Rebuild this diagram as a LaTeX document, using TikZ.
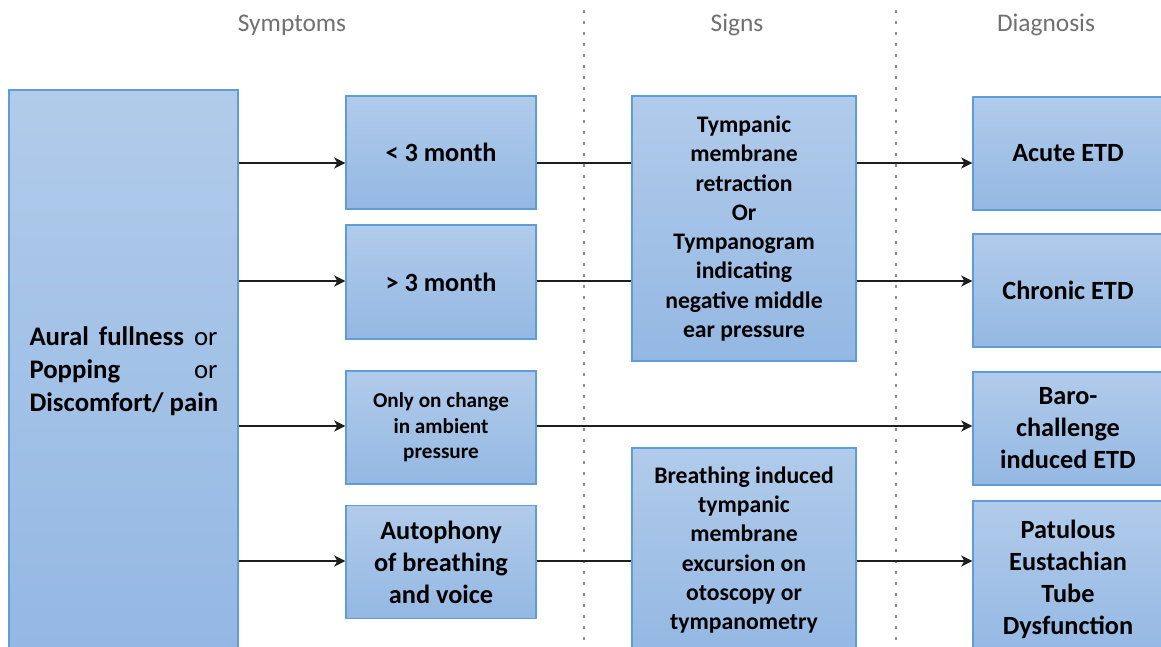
\documentclass[tikz,border=0pt]{standalone}
\usepackage{fontspec}
\setmainfont{Carlito}
\usetikzlibrary{arrows.meta}
\definecolor{boxtop}{HTML}{B1CBEA}
\definecolor{boxbot}{HTML}{94B8E3}
\definecolor{boxline}{HTML}{5F9DD9}
\definecolor{hdr}{HTML}{707070}
\definecolor{dotc}{HTML}{8E8E8E}
\definecolor{linec}{HTML}{1E1E1E}
\tikzset{
  box/.style={draw=boxline, line width=1.4pt, top color=boxtop, bottom color=boxbot,
    inner sep=0pt, align=center, text=black, font=\bfseries},
  big/.style={font=\fontsize{26.3}{32}\selectfont\bfseries},
  mid/.style={font=\fontsize{23.7}{29.3}\selectfont\bfseries},
  small/.style={font=\fontsize{21.2}{25.5}\selectfont\bfseries},
  leftfont/.style={font=\fontsize{26.8}{33}\selectfont},
  hdrtext/.style={text=hdr, font=\fontsize{25.4}{30}\selectfont, anchor=base, inner sep=0pt},
  dotline/.style={draw=dotc, line width=2.8pt, dash pattern=on 2.8pt off 8.2pt},
  conn/.style={draw=linec, line width=2.8pt},
  arr/.style={conn, -{Stealth[length=11pt,width=11pt,inset=3pt]}}
}
\begin{document}
\begin{tikzpicture}[x=1pt,y=-1pt]
\useasboundingbox (0,0) rectangle (1161,646);
\clip (0,0) rectangle (1161,646);
\fill[white] (0,0) rectangle (1161,646);

% headers
\node[hdrtext] (h1) at (292,31) {Symptoms};
\node[hdrtext] (h2) at (737,31) {Signs};
\node[hdrtext] (h3) at (1046,31) {Diagnosis};

% dotted separators
\draw[dotline] (584,10) -- (584,650);
\draw[dotline] (896,10) -- (896,650);

% row levels
\coordinate (r1) at (0,163);
\coordinate (r2) at (0,281);
\coordinate (r3) at (0,426);
\coordinate (r4) at (0,561);

% boxes
\node[box, leftfont, minimum width=229pt, minimum height=562pt] (L) at (123.5,371)
  {\makebox[188pt][s]{\bfseries Aural fullness \mdseries or}\\
   \makebox[188pt][s]{\bfseries Popping \mdseries or}\\
   \makebox[188pt][l]{\bfseries Discomfort/ pain}};

\node[box, big, minimum width=190pt, minimum height=113pt] (a) at (441,152.5) {{<} 3 month};
\node[box, big, minimum width=190pt, minimum height=114pt] (b) at (441,282) {{>} 3 month};
\node[box, small, minimum width=190pt, minimum height=113pt] (c) at (441,427.5) {Only on change\\in ambient\\pressure};
\node[box, big, minimum width=190pt, minimum height=113pt] (d) at (441,562) {Autophony\\of breathing\\and voice};

\node[box, mid, minimum width=224pt, minimum height=265pt] (T) at (744,228.5)
  {\rule{0pt}{6pt}Tympanic\\membrane\\retraction\\Or\\Tympanogram\\indicating\\negative middle\\ear pressure};
\node[box, mid, minimum width=224pt, minimum height=204pt] (B) at (744,550)
  {Breathing induced\\tympanic\\membrane\\excursion on\\otoscopy or\\tympanometry};

\node[box, big, minimum width=190pt, minimum height=113pt] (acute) at (1068,153.5) {\rule{0pt}{3pt}Acute ETD};
\node[box, big, minimum width=190pt, minimum height=113pt] (chronic) at (1068,290.5) {Chronic ETD};
\node[box, big, minimum width=190pt, minimum height=113pt] (baro) at (1068,428.5) {Baro-\\challenge\\induced ETD};
\node[box, big, minimum width=190pt, minimum height=156pt] (pat) at (1068,579) {Patulous\\Eustachian\\Tube\\Dysfunction};

% connectors
\draw[arr] (L.east |- r1) -- (a.west |- r1);
\draw[arr] (L.east |- r2) -- (b.west |- r2);
\draw[arr] (L.east |- r3) -- (c.west |- r3);
\draw[arr] (L.east |- r4) -- (d.west |- r4);

\draw[conn] (a.east |- r1) -- (T.west |- r1);
\draw[conn] (b.east |- r2) -- (T.west |- r2);
\draw[arr] (c.east |- r3) -- (baro.west |- r3);
\draw[conn] (d.east |- r4) -- (B.west |- r4);

\draw[arr] (T.east |- r1) -- (acute.west |- r1);
\draw[arr] (T.east |- r2) -- (chronic.west |- r2);
\draw[arr] (B.east |- r4) -- (pat.west |- r4);
\end{tikzpicture}
\end{document}
